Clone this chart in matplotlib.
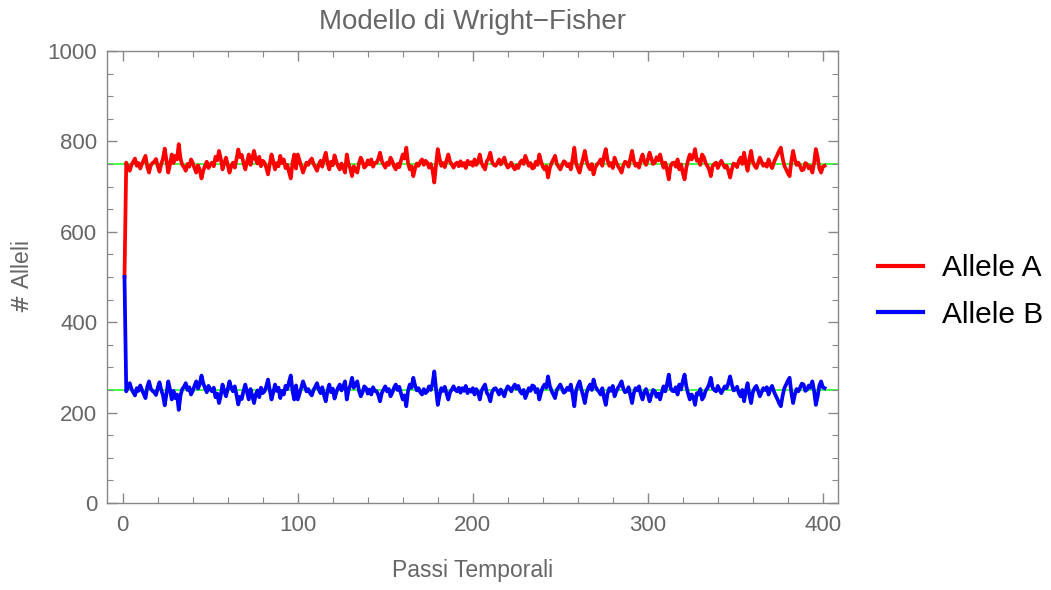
import numpy as np
import matplotlib.pyplot as plt
from matplotlib.ticker import MultipleLocator

plt.rcParams['font.family'] = ['Liberation Sans', 'DejaVu Sans']

# popolazione totale e numero di alleli A nel tempo
total = 1000
steps = list(range(1, 402))
allele_a = [
    500, 753, 742, 735, 748, 755, 762, 746, 752, 740, 750, 759, 768, 744, 731, 747, 752, 755, 761, 745,
    733, 750, 762, 784, 758, 731, 749, 771, 752, 768, 760, 794, 762, 748, 743, 735, 750, 744, 760, 752,
    741, 731, 747, 737, 718, 735, 746, 755, 741, 749, 753, 745, 766, 758, 779, 762, 738, 752, 764, 748,
    731, 746, 753, 742, 761, 782, 765, 770, 752, 738, 755, 771, 748, 763, 779, 760, 751, 766, 745, 757,
    753, 742, 727, 750, 771, 756, 738, 752, 745, 768, 752, 760, 741, 748, 732, 718, 752, 771, 740, 771,
    758, 745, 731, 742, 753, 748, 757, 762, 750, 743, 735, 749, 757, 744, 762, 775, 752, 738, 755, 747,
    769, 756, 745, 738, 751, 742, 731, 771, 750, 740, 723, 745, 737, 731, 752, 764, 755, 742, 746, 758,
    749, 760, 744, 752, 753, 761, 775, 757, 749, 742, 753, 748, 764, 756, 745, 738, 750, 743, 758, 771,
    762, 786, 752, 738, 745, 723, 740, 751, 746, 755, 760, 748, 757, 753, 742, 750, 736, 709, 748, 783,
    762, 746, 752, 743, 758, 771, 755, 749, 742, 750, 753, 745, 756, 746, 752, 741, 757, 749, 754, 746,
    760, 748, 755, 771, 752, 744, 738, 756, 762, 775, 755, 748, 746, 752, 760, 749, 756, 764, 750, 742,
    746, 753, 744, 738, 747, 741, 753, 758, 750, 768, 757, 746, 752, 740, 742, 755, 748, 771, 756, 744,
    738, 745, 720, 741, 752, 760, 768, 750, 744, 738, 747, 756, 753, 745, 750, 738, 760, 786, 752, 740,
    731, 748, 762, 779, 757, 745, 738, 750, 727, 742, 749, 753, 760, 746, 768, 783, 758, 746, 752, 741,
    764, 753, 745, 739, 731, 747, 755, 753, 744, 762, 779, 757, 746, 751, 742, 760, 771, 755, 748, 760,
    775, 762, 750, 753, 765, 758, 771, 755, 742, 753, 736, 716, 745, 752, 753, 744, 760, 738, 749, 730,
    716, 742, 758, 771, 760, 766, 783, 757, 760, 748, 771, 765, 752, 746, 738, 723, 745, 750, 753, 741,
    750, 757, 749, 742, 746, 735, 720, 738, 751, 749, 743, 757, 764, 750, 775, 752, 735, 760, 779, 755,
    746, 741, 752, 764, 755, 746, 750, 744, 760, 748, 741, 753, 762, 770, 779, 786, 763, 746, 738, 730,
    723, 756, 779, 760, 748, 753, 745, 736, 738, 752, 749, 740, 745, 731, 752, 783, 765, 740, 731, 744,
    746,
]
allele_b = [total - a for a in allele_a]
equilibria = [750, 250]

fig = plt.figure(figsize=(10.51, 5.90), dpi=100)
ax = fig.add_axes([0.1018, 0.1475, 0.6956, 0.7661])

for e in equilibria:
    ax.axhline(e, color='#33ff33', lw=1.3, zorder=1)
ax.plot(steps, allele_a, color='#ff0000', lw=2.7, label='Allele A', zorder=3)
ax.plot(steps, allele_b, color='#0000ff', lw=2.7, label='Allele B', zorder=3)

ax.set_xlim(-9, 408.7)
ax.set_ylim(0, 1000)
ax.xaxis.set_major_locator(MultipleLocator(100))
ax.xaxis.set_minor_locator(MultipleLocator(20))
ax.yaxis.set_major_locator(MultipleLocator(200))
ax.yaxis.set_minor_locator(MultipleLocator(50))

gray = '#666666'
for s in ax.spines.values():
    s.set_color('#888888')
    s.set_linewidth(1.0)
ax.tick_params(which='both', direction='in', top=True, right=True, color='#888888',
               labelcolor=gray, labelsize=16)
ax.tick_params(axis='x', pad=9)
ax.tick_params(axis='y', pad=7)
ax.tick_params(which='major', length=7, width=1)
ax.tick_params(which='minor', length=4, width=0.8)

ax.set_title('Modello di Wright\u2212Fisher', color=gray, fontsize=20, pad=16)
ax.set_xlabel('Passi Temporali', color=gray, fontsize=16.5, labelpad=16)
ax.set_ylabel(r'$\#$ Alleli', color=gray, fontsize=16.5, labelpad=10)

leg = fig.legend(loc='center left', bbox_to_anchor=(0.8354, 0.5059), frameon=False,
                 fontsize=21.5, handlelength=1.5, handletextpad=0.64, labelspacing=0.62,
                 borderpad=0, borderaxespad=0)
for line in leg.get_lines():
    line.set_linewidth(3)

fig.savefig('out.png', dpi=100)
